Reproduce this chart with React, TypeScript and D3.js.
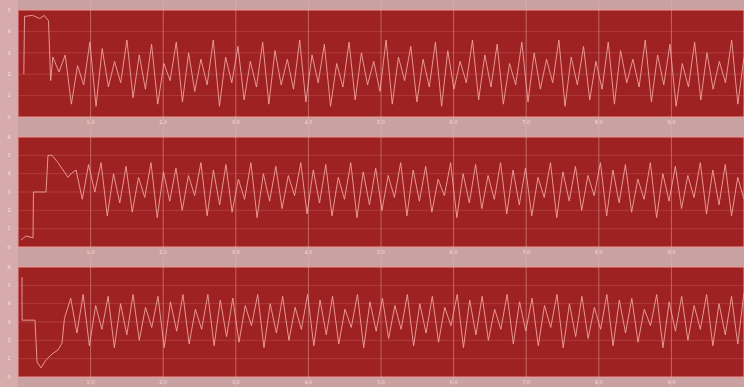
import React, { useEffect, useRef } from 'react';
import * as d3 from 'd3';

// time ticks shared by the three traces
const timeTicks = [1, 2, 3, 4, 5, 6, 7, 8, 9];
const timeDomain = [0, 10];

// trace 1 : start-up transient (t, value) then the steady oscillation
const trace1Start = [
  [0.08, 2.0], [0.09, 4.7], [0.2, 4.75], [0.3, 4.6], [0.36, 4.75], [0.42, 4.5], [0.45, 1.7]
];
const trace1Wave = [
  2.8, 2.1, 2.9, 0.6, 2.4, 1.5, 3.5, 0.5, 3.2, 1.4,
  2.6, 1.6, 3.6, 0.9, 2.9, 1.3, 3.4, 0.6, 2.5, 1.7,
  3.5, 0.7, 3.0, 1.2, 2.7, 1.5, 3.6, 0.5, 2.8, 1.6,
  3.3, 0.8, 2.6, 1.4, 3.5, 0.6, 3.1, 1.5, 2.7, 1.3,
  3.6, 0.7, 2.9, 1.6, 3.4, 0.5, 2.5, 1.4, 3.5, 0.8,
  3.0, 1.5, 2.6, 1.2, 3.6, 0.6, 2.8, 1.7, 3.3, 0.7,
  2.7, 1.4, 3.5, 0.5, 3.1, 1.3, 2.6, 1.6, 3.6, 0.8,
  2.9, 1.4, 3.4, 0.6, 2.5, 1.5, 3.5, 0.7, 3.0, 1.3,
  2.7, 1.6, 3.6, 0.5, 2.8, 1.5, 3.3, 0.8, 2.6, 1.3,
  3.5, 0.6, 3.1, 1.6, 2.7, 1.4, 3.6, 0.7, 2.9, 1.5,
  3.4, 0.5, 2.5, 1.4, 3.5, 0.8, 3.0, 1.3, 2.6, 1.6,
  3.6, 0.6, 2.8
];
const trace1Ticks = [0, 1, 2, 3, 4, 5];

// trace 2
const trace2Start = [
  [0.04, 0.38], [0.11, 0.6], [0.207, 0.5], [0.213, 3.0], [0.386, 3.0], [0.413, 5.0],
  [0.468, 5.0], [0.551, 4.6], [0.689, 3.8], [0.744, 4.05]
];
const trace2Wave = [
  4.2, 2.6, 4.5, 3.0, 4.6, 1.7, 4.0, 2.4, 4.4, 1.9, 3.8, 2.7, 4.6, 1.6, 4.1, 2.5, 4.3, 2.0, 3.9, 2.8,
  4.6, 1.7, 4.2, 2.3, 4.5, 1.9, 3.7, 2.6, 4.6, 1.6, 4.0, 2.5, 4.4, 2.1, 3.9, 2.8, 4.6, 1.8, 4.2, 2.4,
  4.5, 1.7, 3.8, 2.6, 4.6, 1.6, 4.1, 2.3, 4.3, 2.0, 3.9, 2.7, 4.6, 1.7, 4.2, 2.5, 4.4, 1.9, 3.7, 2.8,
  4.6, 1.6, 4.0, 2.4, 4.5, 2.1, 3.9, 2.6, 4.6, 1.8, 4.2, 2.3, 4.3, 1.7, 3.8, 2.7, 4.6, 1.6, 4.1, 2.5,
  4.4, 2.0, 3.9, 2.8, 4.6, 1.7, 4.2, 2.4, 4.5, 1.9, 3.7, 2.6, 4.6, 1.6, 4.0, 2.5, 4.4, 2.1, 3.9, 2.7,
  4.6, 1.8, 4.2, 2.3, 4.5, 1.7, 3.8, 2.6
];
const trace2Ticks = [0, 1, 2, 3, 4, 5, 6];

// trace 3
const trace3Start = [
  [0.055, 5.45], [0.056, 3.1], [0.234, 3.1], [0.262, 0.82], [0.317, 0.5], [0.386, 0.93],
  [0.468, 1.25], [0.55, 1.47], [0.606, 1.85]
];
const trace3Wave = [
  3.2, 4.3, 2.4, 4.5, 1.7, 3.9, 2.6, 4.4, 1.6, 4.0,
  2.3, 4.5, 2.0, 3.8, 2.7, 4.4, 1.6, 4.1, 2.5, 4.5,
  1.8, 3.7, 2.6, 4.5, 1.7, 4.2, 2.2, 4.3, 1.9, 3.9,
  2.8, 4.5, 1.6, 4.0, 2.4, 4.4, 2.0, 3.8, 2.6, 4.5,
  1.7, 4.2, 2.3, 4.4, 1.8, 3.7, 2.7, 4.5, 1.6, 4.1,
  2.5, 4.3, 2.1, 3.9, 2.6, 4.5, 1.7, 4.0, 2.4, 4.4,
  1.9, 3.8, 2.8, 4.5, 1.6, 4.2, 2.3, 4.4, 2.0, 3.7,
  2.6, 4.5, 1.8, 4.1, 2.5, 4.3, 1.7, 3.9, 2.7, 4.5,
  1.6, 4.0, 2.2, 4.4, 2.1, 3.8, 2.6, 4.5, 1.7, 4.2,
  2.4, 4.3, 1.9, 3.7, 2.8, 4.5, 1.6, 4.1, 2.5, 4.4,
  2.0, 3.9, 2.6, 4.5, 1.7, 4.0, 2.3, 4.4, 1.8, 4.6
];
const trace3Ticks = [0, 1, 2, 3, 4, 5, 6];

const traces = [
  { start: trace1Start, wave: trace1Wave, waveFrom: 0.48, ticks: trace1Ticks },
  { start: trace2Start, wave: trace2Wave, waveFrom: 0.8, ticks: trace2Ticks },
  { start: trace3Start, wave: trace3Wave, waveFrom: 0.64, ticks: trace3Ticks },
];

const App = () => {
  const svgRef = useRef(null);
  const width = 744;
  const height = 387;
  const margin = { left: 18, right: 0 };
  // vertical bands of the three plots
  const bands = [[10, 117], [137, 247], [267, 377]];

  useEffect(() => {
    const svg = d3.select(svgRef.current);
    svg.selectAll('*').remove();

    const x = d3.scaleLinear().domain(timeDomain).range([margin.left, width - margin.right]);

    svg.append('rect').attr('width', width).attr('height', height).attr('fill', '#c9a1a1');
    svg.append('rect').attr('width', margin.left).attr('height', height).attr('fill', '#d7abab');

    traces.forEach((tr, k) => {
      const [top, bottom] = bands[k];
      const y = d3.scaleLinear()
        .domain([0, tr.ticks[tr.ticks.length - 1]])
        .range([bottom, top]);

      const g = svg.append('g');

      g.append('rect')
        .attr('x', margin.left)
        .attr('y', top)
        .attr('width', width - margin.left)
        .attr('height', bottom - top)
        .attr('fill', '#9f2222')
        .attr('stroke', '#ee9a9a')
        .attr('stroke-width', 1);

      // horizontal grid
      g.selectAll('.hgrid')
        .data(tr.ticks.slice(1, -1))
        .join('line')
        .attr('x1', margin.left)
        .attr('x2', width)
        .attr('y1', d => y(d))
        .attr('y2', d => y(d))
        .attr('stroke', '#e79090')
        .attr('stroke-opacity', 0.3)
        .attr('stroke-width', 0.8);

      // y tick labels
      g.selectAll('.ylab')
        .data(tr.ticks)
        .join('text')
        .attr('x', 9)
        .attr('y', d => y(d) + 1.8)
        .attr('text-anchor', 'middle')
        .attr('font-size', 5)
        .attr('font-family', 'DejaVu Sans')
        .attr('fill', '#f6e6e6')
        .text(d => d);

      // x tick labels under each plot
      g.selectAll('.xlab')
        .data(timeTicks)
        .join('text')
        .attr('x', d => x(d))
        .attr('y', bottom + 7)
        .attr('text-anchor', 'middle')
        .attr('font-size', 5)
        .attr('font-family', 'DejaVu Sans')
        .attr('fill', '#f3dede')
        .text(d => d3.format('.1f')(d));

      const step = (timeDomain[1] - tr.waveFrom) / (tr.wave.length - 1);
      const pts = tr.start.map(([t, v]) => [t, v])
        .concat(tr.wave.map((v, i) => [tr.waveFrom + i * step, v]));

      const line = d3.line()
        .x(d => x(d[0]))
        .y(d => y(d[1]));

      g.append('path')
        .attr('d', line(pts))
        .attr('fill', 'none')
        .attr('stroke', '#f0a29c')
        .attr('stroke-opacity', 0.9)
        .attr('stroke-width', 1)
        .attr('stroke-linejoin', 'round');
    });

    // vertical grid through everything
    svg.selectAll('.vgrid')
      .data(timeTicks)
      .join('line')
      .attr('x1', d => x(d))
      .attr('x2', d => x(d))
      .attr('y1', 0)
      .attr('y2', height)
      .attr('stroke', '#f0b4b4')
      .attr('stroke-opacity', 0.45)
      .attr('stroke-width', 1);
  }, []);

  return (
    <svg
      ref={svgRef}
      width={width}
      height={height}
      viewBox={`0 0 ${width} ${height}`}
      style={{ position: 'absolute', left: 0, top: 0, display: 'block' }}
    />
  );
};

export default App;
